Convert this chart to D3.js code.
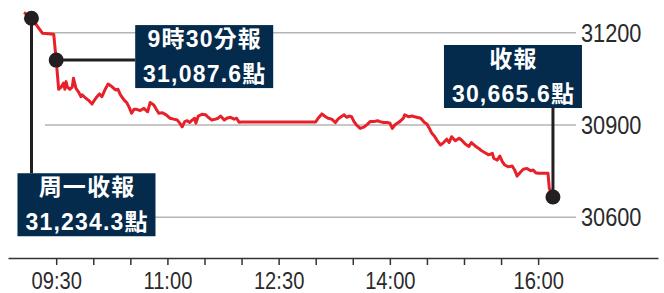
<!DOCTYPE html>
<html>
<head>
<meta charset="utf-8">
<script src="https://cdn.jsdelivr.net/npm/d3@7/dist/d3.min.js"></script>
<style>
  body { margin: 0; background: #fff; }
  svg { display: block; }
  .tick line { stroke: #333; stroke-width: 1.5; }
  .domain { stroke: #333; stroke-width: 1.5; }
</style>
</head>
<body>
<div id="chart"></div>
<script>
// intraday readings (time, index level)
const times = ["09:04","09:10","09:19","09:28","09:30","09:32","09:34","09:36","09:37","09:38","09:39","09:41","09:43","09:44","09:46","09:48","09:50","09:51","09:54","09:56","09:59",
  "10:01","10:03","10:05","10:07","10:10","10:12","10:15","10:18","10:20","10:22","10:25","10:27","10:29","10:31","10:33","10:35","10:38","10:41","10:44","10:46","10:49","10:51","10:53","10:56","10:59",
  "11:02","11:05","11:08","11:10","11:12","11:14","11:16","11:18","11:20","11:22","11:23","11:25","11:28","11:31","11:33","11:36","11:39","11:41","11:43","11:46","11:48","11:51","11:54","11:56","11:58","12:00",
  "13:00","13:02","13:05","13:08","13:10","13:13","13:16","13:18","13:20","13:23","13:25","13:27","13:29","13:31","13:33","13:36","13:39","13:42","13:44","13:47","13:50","13:52","13:55","13:58",
  "14:00","14:02","14:04","14:06","14:08","14:11","14:12","14:15","14:18","14:20","14:25","14:28","14:30","14:32","14:34","14:36","14:38","14:41","14:43","14:46","14:48","14:50","14:53","14:56","14:58",
  "15:01","15:04","15:06","15:09","15:12","15:14","15:17","15:20","15:23","15:24","15:27","15:29","15:31","15:33","15:36","15:39","15:41","15:43","15:46","15:48","15:51","15:54","15:56","15:58",
  "16:00","16:08","16:09","16:12"];
const levels = [31266,31247,31198,31195,31111,31016,31023,31036,31016,31041,31024,31016,31023,31052,31019,31008,30992,30998,30987,30981,30968,
  30981,30992,31001,30992,31019,31033,31025,31014,31016,30998,30981,30973,30958,30938,30951,30951,30947,30954,30943,30973,30965,30951,30938,30940,30933,
  30922,30919,30916,30906,30894,30911,30914,30908,30916,30922,30906,30929,30935,30933,30925,30916,30919,30922,30929,30916,30922,30925,30919,30922,30909,30910,
  30910,30922,30936,30927,30922,30919,30908,30919,30925,30933,30925,30929,30927,30911,30900,30889,30893,30903,30911,30911,30914,30911,30908,30908,
  30906,30889,30900,30906,30911,30922,30933,30927,30929,30927,30922,30908,30903,30889,30873,30864,30851,30835,30841,30854,30843,30862,30849,30857,30851,
  30838,30830,30843,30832,30824,30817,30810,30803,30808,30792,30786,30799,30781,30770,30764,30767,30754,30734,30748,30756,30759,30751,30754,30745,
  30743,30743,30695,30666];

const yTicks = [31200, 30900, 30600];
const xTicks = ["09:30","10:00","10:30","11:00","11:30","12:00","12:30","13:00","13:30","14:00","14:30","15:00","15:30","16:00"];
const xLabels = ["09:30","11:00","12:30","14:00","16:00"];

// callouts: which reading, text lines, where the box sits
const noteIndex = [1, 4, times.length - 1];
const noteText = [["周一收報", "31,234.3點"], ["9時30分報", "31,087.6點"], ["收報", "30,665.6點"]];
const noteSide = ["down", "right", "up"];
const noteShift = [[-14, 155], [79, -35], [-109, -152]];

const W = 664, H = 293;
const parse = d3.timeParse("%H:%M");
const fmt = d3.timeFormat("%H:%M");

const data = times.map((t, i) => ({ t: parse(t), v: levels[i] }));

const x = d3.scaleTime()
  .domain([parse("08:51"), parse("17:37")])
  .range([8, 658]);
const y = d3.scaleLinear()
  .domain([30600, 31200])
  .range([217.3, 32.7]);

const svg = d3.select("#chart").append("svg")
  .attr("width", W)
  .attr("height", H);

// grid
svg.append("g").selectAll("line")
  .data(yTicks)
  .join("line")
    .attr("x1", 45).attr("x2", 576)
    .attr("y1", d => y(d)).attr("y2", d => y(d))
    .attr("stroke", "#b4b4b4")
    .attr("stroke-width", 1.5);

svg.append("g").selectAll("text")
  .data(yTicks)
  .join("text")
    .attr("transform", d => "translate(581," + y(d) + ") scale(0.87,1)")
    .attr("dy", "0.36em")
    .attr("font-family", "'Liberation Sans', Arial, sans-serif")
    .attr("font-size", 25)
    .attr("fill", "#2a2a2a")
    .text(d => d);

// x axis
const xAxis = svg.append("g")
  .attr("transform", "translate(0,258)")
  .call(d3.axisBottom(x)
    .tickValues(xTicks.map(parse))
    .tickSize(7)
    .tickSizeOuter(0)
    .tickFormat(d => xLabels.includes(fmt(d)) ? fmt(d) : ""));

xAxis.selectAll("text")
  .attr("y", 31)
  .attr("dy", 0)
  .attr("transform", "scale(0.84,1)")
  .attr("font-family", "'Liberation Sans', Arial, sans-serif")
  .attr("font-size", 24)
  .attr("fill", "#2a2a2a");

// index line
svg.append("path")
  .datum(data)
  .attr("fill", "none")
  .attr("stroke", "#e8202a")
  .attr("stroke-width", 3)
  .attr("stroke-linejoin", "round")
  .attr("d", d3.line().x(d => x(d.t)).y(d => y(d.v)));

// callouts
const notes = noteIndex.map((k, i) => {
  const px = x(data[k].t), py = y(data[k].v);
  return { px, py, bx: px + noteShift[i][0], by: py + noteShift[i][1], side: noteSide[i], lines: noteText[i] };
});
const boxW = 138, boxH = 63;

svg.append("g").selectAll("line")
  .data(notes)
  .join("line")
    .attr("x1", d => d.px)
    .attr("y1", d => d.py)
    .attr("x2", d => d.side === "right" ? d.bx : d.px)
    .attr("y2", d => d.side === "down" ? d.by : d.side === "up" ? d.by + boxH : d.py)
    .attr("stroke", "#231f20")
    .attr("stroke-width", 3);

const box = svg.append("g").selectAll("g")
  .data(notes)
  .join("g")
    .attr("transform", d => "translate(" + d.bx + "," + d.by + ")");

box.append("rect")
  .attr("width", boxW)
  .attr("height", boxH)
  .attr("fill", "#042a4c");

box.selectAll("text")
  .data(d => d.lines)
  .join("text")
    .attr("x", boxW / 2 + 0.6)
    .attr("y", (d, i) => i === 0 ? 22 : 57)
    .attr("text-anchor", "middle")
    .attr("font-family", "'Liberation Sans', Arial, 'Noto Sans CJK TC', sans-serif")
    .attr("font-weight", "bold")
    .attr("font-size", 23)
    .attr("letter-spacing", 1.2)
    .attr("fill", "#fff")
    .text(d => d);

svg.append("g").selectAll("circle")
  .data(notes)
  .join("circle")
    .attr("cx", d => d.px)
    .attr("cy", d => d.py)
    .attr("r", 7.5)
    .attr("fill", "#231f20");
</script>
</body>
</html>
